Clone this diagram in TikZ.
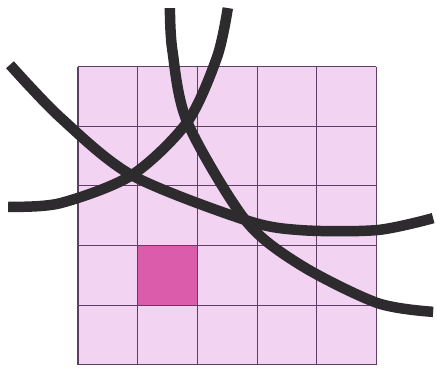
\documentclass[tikz,border=0pt]{standalone}
\usepackage{tikz}
\definecolor{blush}{HTML}{F2D4F2}
\definecolor{plum}{HTML}{5E3E66}
\definecolor{rose}{HTML}{DC5CAC}
\definecolor{coal}{HTML}{2E2B2E}

\begin{document}
\begin{tikzpicture}
  \useasboundingbox (-1.307,-0.067) rectangle (6.015,6.115);
  \fill[blush] (0,0) rectangle (5,5);
  \fill[rose] (1,1) rectangle (2,2);
  \foreach \i in {0,...,5} {
    \draw[plum,line width=0.5pt] (\i,0) -- (\i,5);
    \draw[plum,line width=0.5pt] (0,\i) -- (5,\i);
  }
  \draw[line width=5pt,coal] plot[smooth] coordinates {(-1.14,5.03) (-0.30,4.15) (0.90,3.18) (2.80,2.43) (3.72,2.26) (5.01,2.26) (5.95,2.46)};
  \draw[line width=5pt,coal] plot[smooth] coordinates {(-1.17,2.65) (-0.30,2.71) (0.90,3.18) (1.83,4.07) (2.33,5.16) (2.51,5.98)};
  \draw[line width=5pt,coal] plot[smooth] coordinates {(1.54,5.98) (1.58,5.28) (1.83,4.07) (2.80,2.43) (3.72,1.68) (5.01,1.04) (5.95,0.89)};
\end{tikzpicture}
\end{document}
